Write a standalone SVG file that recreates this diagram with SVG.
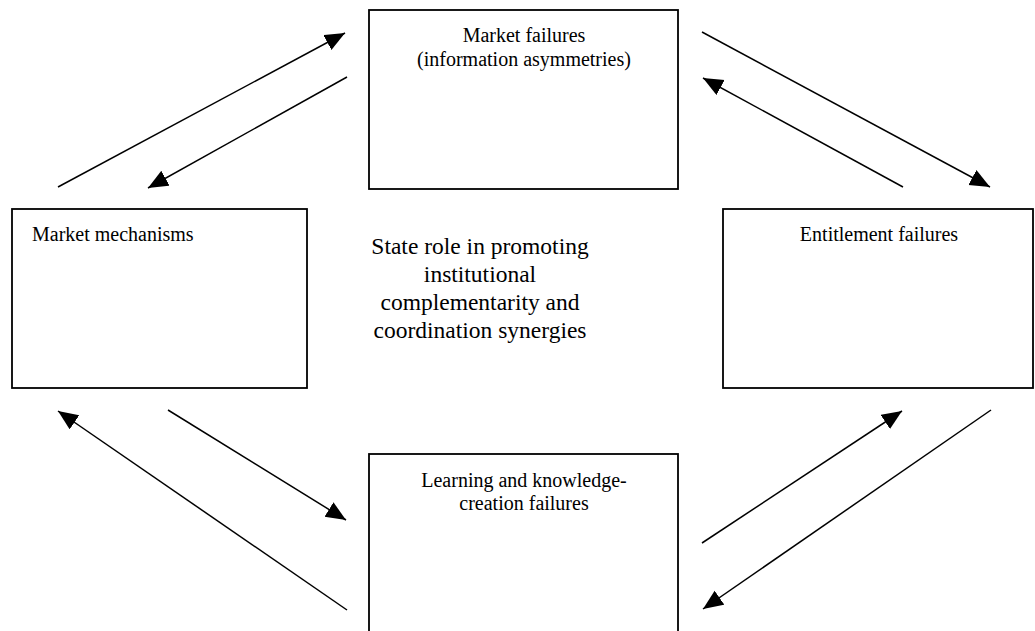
<svg xmlns="http://www.w3.org/2000/svg" width="1035" height="631" viewBox="0 0 1035 631">
<style>
.box{fill:#fff;stroke:#000;stroke-width:1.8}
.t{font-family:"Liberation Serif","Times New Roman",serif;font-size:20px;fill:#000}
.c{font-family:"Liberation Serif","Times New Roman",serif;font-size:23.5px;fill:#000;text-anchor:middle}
.m{text-anchor:middle}
.ln{stroke:#000;stroke-width:1.5;fill:none;marker-end:url(#ah)}
</style>
<defs>
<marker id="ah" markerUnits="userSpaceOnUse" markerWidth="22" markerHeight="18" refX="20" refY="8.5" orient="auto">
<path d="M0,0 L20,8.5 L0,17 z" fill="#000"/>
</marker>
</defs>
<rect width="1035" height="631" fill="#fff"/>
<g id="connectors">
<line class="ln" x1="58" y1="187" x2="345" y2="33"/>
<line class="ln" x1="347" y1="77" x2="148" y2="188"/>
<line class="ln" x1="702" y1="32" x2="990" y2="187"/>
<line class="ln" x1="903" y1="187" x2="703" y2="78"/>
<line class="ln" x1="168" y1="410" x2="346" y2="520"/>
<line class="ln" x1="347" y1="610" x2="58" y2="411"/>
<line class="ln" x1="702" y1="543" x2="902" y2="411"/>
<line class="ln" x1="991" y1="410" x2="703" y2="609"/>
</g>
<g id="market-failures">
<rect class="box" x="369" y="10" width="309" height="179"/>
<text class="t m" x="524" y="42">Market failures</text>
<text class="t m" x="524" y="66">(information asymmetries)</text>
</g>
<g id="market-mechanisms">
<rect class="box" x="12" y="209" width="295" height="179"/>
<text class="t" x="32" y="241">Market mechanisms</text>
</g>
<g id="entitlement-failures">
<rect class="box" x="723" y="209" width="310" height="179"/>
<text class="t m" x="879" y="241">Entitlement failures</text>
</g>
<g id="learning-failures">
<rect class="box" x="369" y="454" width="309" height="190"/>
<text class="t m" x="524" y="487">Learning and knowledge-</text>
<text class="t m" x="524" y="510">creation failures</text>
</g>
<g id="state-role">
<text class="c" x="480" y="254">State role in promoting</text>
<text class="c" x="480" y="282">institutional</text>
<text class="c" x="480" y="310">complementarity and</text>
<text class="c" x="480" y="338">coordination synergies</text>
</g>
</svg>
